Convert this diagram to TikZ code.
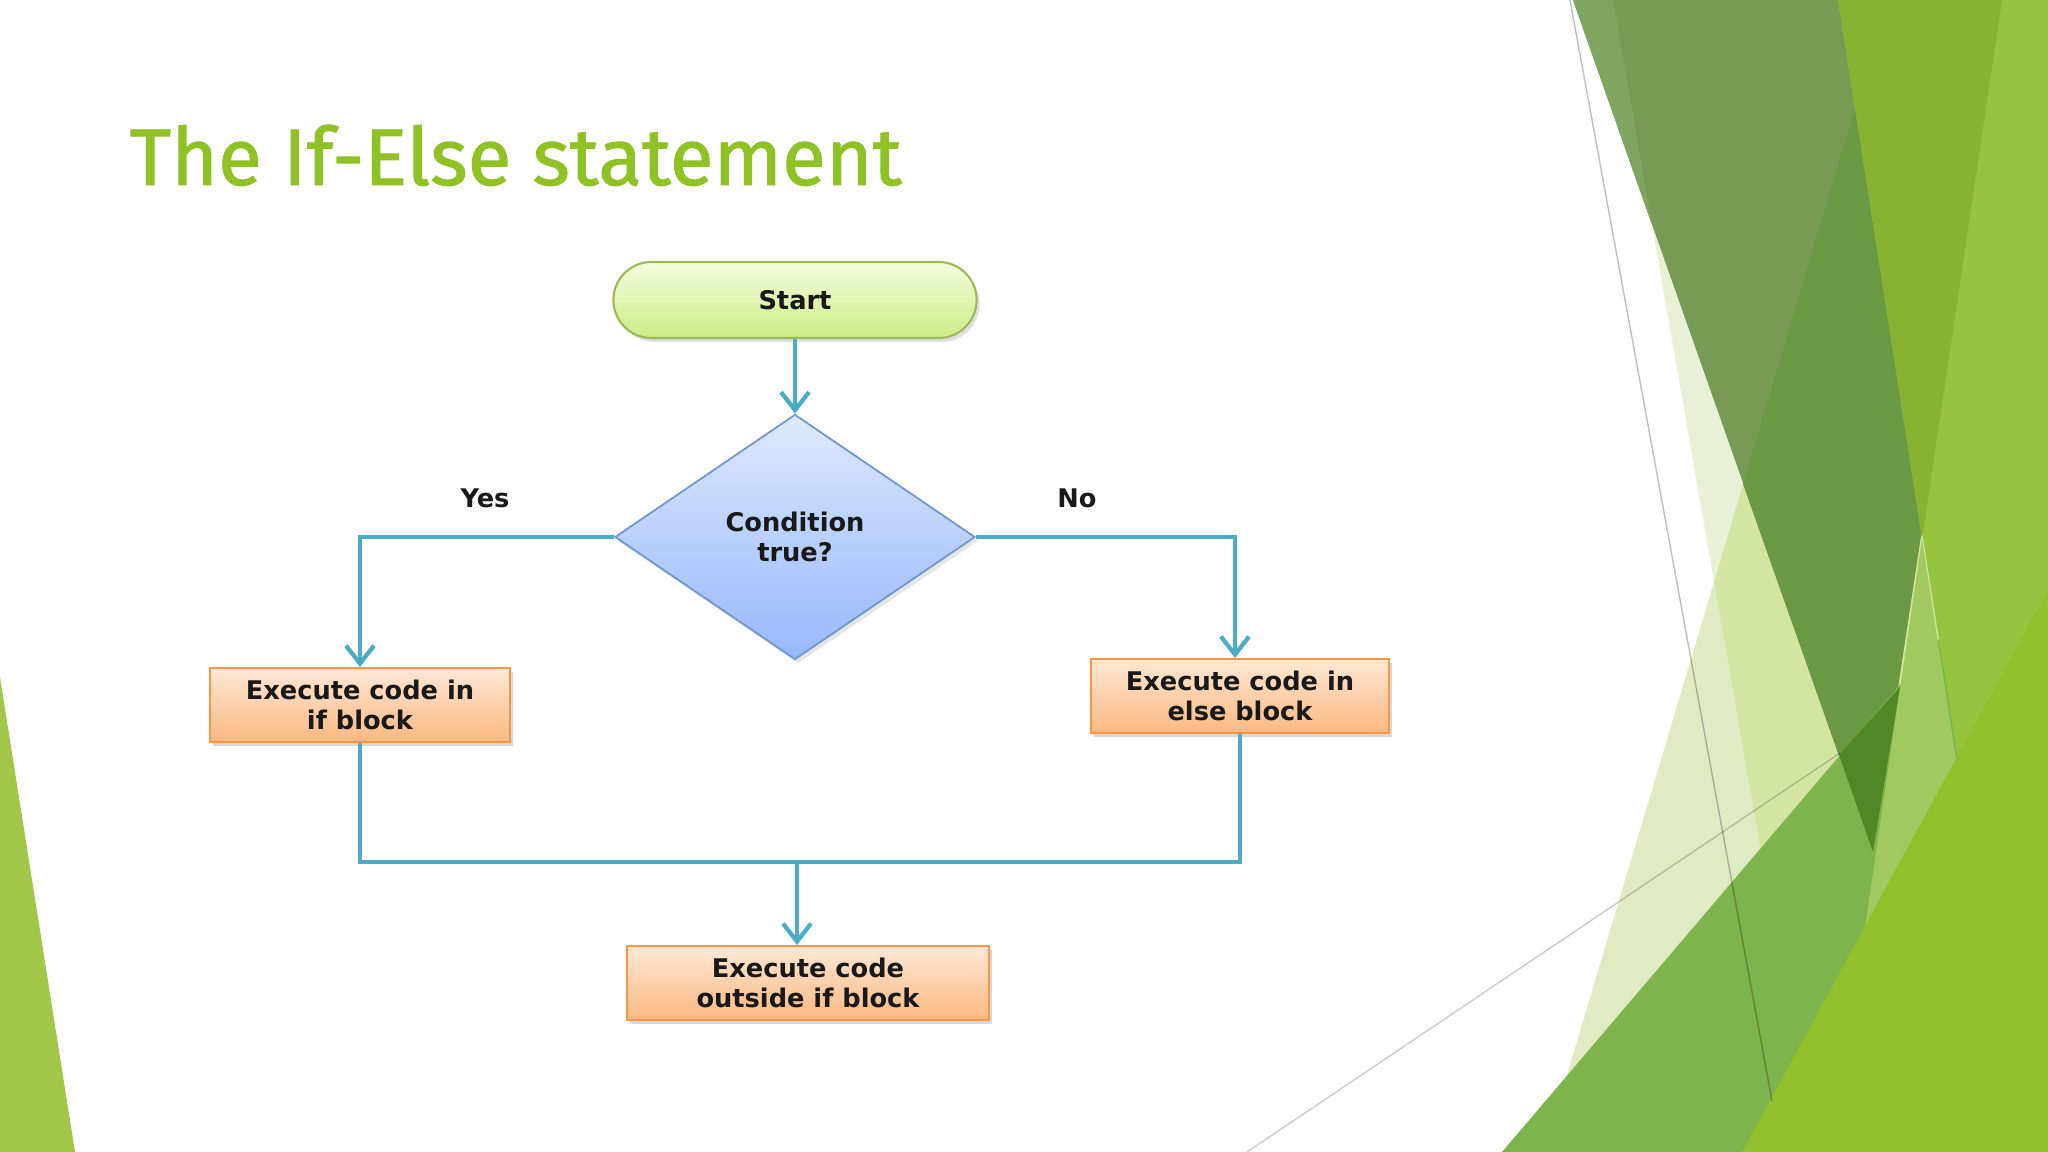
\documentclass[tikz,border=0pt]{standalone}
\usepackage{fontspec}
\setmainfont{DejaVu Sans}
\newfontfamily\titlefont[FakeBold=1.2]{Fira Sans}
\usepackage{tikz}
\usetikzlibrary{arrows.meta,shapes.geometric,shadows,calc}
\definecolor{slidegreen}{RGB}{144,194,38}
\definecolor{flowblue}{RGB}{75,172,198}
\definecolor{termedge}{RGB}{155,187,89}
\definecolor{decedge}{RGB}{112,150,208}
\definecolor{procedge}{RGB}{247,150,70}
\tikzset{
  flowln/.style={-{Straight Barb[length=1.8mm,width=2.8mm]}, line width=1.2pt, flowblue},
  joinln/.style={line width=1.2pt, flowblue, line join=miter},
  txt/.style={font=\fontsize{7.3}{8.7}\selectfont\bfseries, align=center, text=black!90},
  termbox/.style={txt, rectangle, rounded corners=0.38cm, minimum width=3.63cm, minimum height=0.76cm,
    draw=termedge, line width=0.6pt, top color={rgb,255:red,245;green,252;blue,222},
    bottom color={rgb,255:red,206;green,236;blue,132},
    drop shadow={shadow xshift=0.3mm, shadow yshift=-0.4mm, opacity=0.25}},
  decbox/.style={txt, diamond, inner sep=0pt, minimum width=3.6cm, minimum height=2.45cm,
    draw=decedge, line width=0.5pt, top color={rgb,255:red,222;green,233;blue,252},
    bottom color={rgb,255:red,150;green,184;blue,250},
    drop shadow={shadow xshift=0.3mm, shadow yshift=-0.4mm, opacity=0.2}},
  procbox/.style={txt, rectangle, minimum height=0.72cm,
    draw=procedge, line width=0.6pt, top color={rgb,255:red,255;green,232;blue,212},
    bottom color={rgb,255:red,250;green,184;blue,130},
    drop shadow={shadow xshift=0.3mm, shadow yshift=-0.4mm, opacity=0.3}},
  facet/.style={draw=none},
}
\begin{document}
\begin{tikzpicture}[x=0.01cm,y=-0.01cm]
    \useasboundingbox (0,0) rectangle (2048,1152);
    \fill[white] (0,0) rectangle (2048,1152);
    % ----- facets right -----
    \fill[facet, fill={rgb,255:red,232;green,241;blue,214}] (1613,0) -- (2048,0) -- (2048,1152) -- (1813,1152) -- cycle;
    \fill[facet, fill={rgb,255:red,224;green,235;blue,196}] (1714,582) -- (1813,1152) -- (1544,1152) -- cycle;
    \fill[facet, fill={rgb,255:red,212;green,229;blue,163}] (1887,0) -- (2048,0) -- (2048,1152) -- (1813,1152) -- (1714,582) -- cycle;
    \fill[facet, fill={rgb,255:red,119;green,155;blue,85}] (1573,0) -- (2002,0) -- (1873,852) -- cycle;
    \fill[facet, fill={rgb,255:red,127;green,166;blue,96}] (1573,0) -- (1613,0) -- (1652,225) -- cycle;
    \fill[facet, fill={rgb,255:red,106;green,152;blue,69}] (1887,0) -- (2002,0) -- (1873,852) -- (1743,484) -- cycle;
    \fill[facet, fill={rgb,255:red,125;green,180;blue,75}] (1502,1152) -- (2048,511) -- (2048,1152) -- cycle;
    \fill[facet, fill={rgb,255:red,80;green,136;blue,36}] (1839,755) -- (1900,687) -- (1873,852) -- cycle;
    \fill[facet, fill={rgb,255:red,160;green,201;blue,95}] (1922,539) -- (1956,759) -- (1865,927) -- cycle;
    \fill[facet, fill={rgb,255:red,150;green,196;blue,62}] (1838,0) -- (2048,0) -- (2048,1152) -- (2020,1152) -- cycle;
    \fill[facet, fill={rgb,255:red,133;green,180;blue,50}] (1838,0) -- (2002,0) -- (1922,539) -- cycle;
    \fill[facet, fill={rgb,255:red,145;green,192;blue,45}] (1742,1152) -- (2048,590) -- (2048,1152) -- cycle;
    \draw[black, opacity=0.25, line width=0.4pt] (1570,0) -- (1772,1101);
    \draw[black, opacity=0.2, line width=0.4pt] (1247,1152) -- (1840,753);
    % ----- facet left -----
    \fill[facet, fill={rgb,255:red,161;green,198;blue,72}] (0,677) -- (75,1152) -- (0,1152) -- cycle;
    % ----- title -----
    \node[anchor=base west, inner sep=0pt, text=slidegreen, font=\titlefont\fontsize{22.8}{26}\selectfont] (title) at (129,185) {The If-Else statement};
    % ----- flowchart -----
    \node[termbox] (start) at (795,300) {Start};
    \node[decbox] (cond) at (795,537) {Condition\\true?};
    \node[procbox, minimum width=2.99cm] (ifb) at (360,705) {Execute code in\\if block};
    \node[procbox, minimum width=2.97cm] (elseb) at (1240,696) {Execute code in\\else block};
    \node[procbox, minimum width=3.61cm] (outb) at (808,983) {Execute code\\outside if block};
    \node[txt] (yes) at (485,498) {Yes};
    \node[txt] (no) at (1077,498) {No};
    \coordinate (join) at (797,862);
    \draw[flowln] (start) -- (cond.north);
    \draw[flowln] (cond.west) -| (ifb.north);
    \draw[flowln] (cond.east) -| ([xshift=-0.05cm]elseb.north);
    \draw[joinln] (ifb.south) |- (join) -| (elseb.south);
    \draw[flowln] (join) -- (join |- outb.north);
\end{tikzpicture}
\end{document}
